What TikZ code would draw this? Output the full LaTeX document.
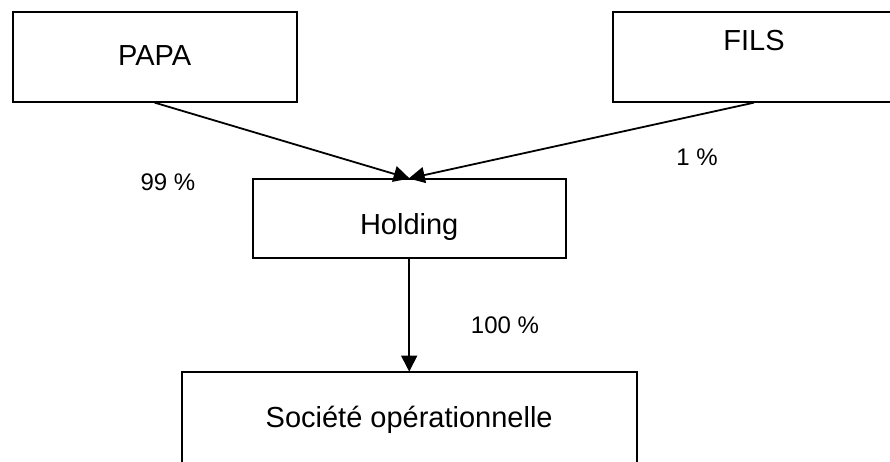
\documentclass[tikz,border=0pt]{standalone}
\usepackage{fontspec}
\setmainfont{Liberation Sans}
\usetikzlibrary{arrows.meta}
\begin{document}
\begin{tikzpicture}[x=1pt,y=-1pt,
  box/.style={draw=black,line width=1.8pt,fill=white,inner sep=0pt,
    font=\fontsize{29}{34}\selectfont},
  pct/.style={inner sep=0pt,font=\fontsize{24}{28}\selectfont},
  link/.style={draw=black,line width=1.8pt,-{Triangle[length=16pt,width=16pt]},shorten >=-0.5pt}]
  \useasboundingbox (0,0) rectangle (890,461);
  \clip (0,0) rectangle (890,461);
  \fill[white] (0,0) rectangle (890,461);
  % shareholders
  \node[box,minimum width=284pt,minimum height=89.7pt,text height=21pt,text depth=4.2pt] (papa) at (154.7,56.9) {PAPA};
  \node[box,minimum width=282.6pt,minimum height=89.7pt] (fils) at (754,56.9) {};
  \node[font=\fontsize{29}{34}\selectfont,inner sep=0pt,text height=21pt,text depth=0pt] (filstext) at (754,40) {FILS};
  % holding company and operating company
  \node[box,minimum width=313pt,minimum height=79pt,text height=31pt,text depth=0.2pt] (holding) at (409.2,218.8) {Holding};
  \node[box,minimum width=455pt,minimum height=92pt,text height=21pt,text depth=2.8pt] (soc) at (409.2,418) {Société opérationnelle};
  % ownership links
  \draw[link] (papa.south) -- (holding.north);
  \draw[link] (fils.south) -- (holding.north);
  \draw[link] (holding.south) -- (soc.north);
  % ownership percentages
  \node[pct] (p99) at (168,182) {99 \%};
  \node[pct] (p1) at (697,157) {1 \%};
  \node[pct] (p100) at (505,325) {100 \%};
\end{tikzpicture}
\end{document}
